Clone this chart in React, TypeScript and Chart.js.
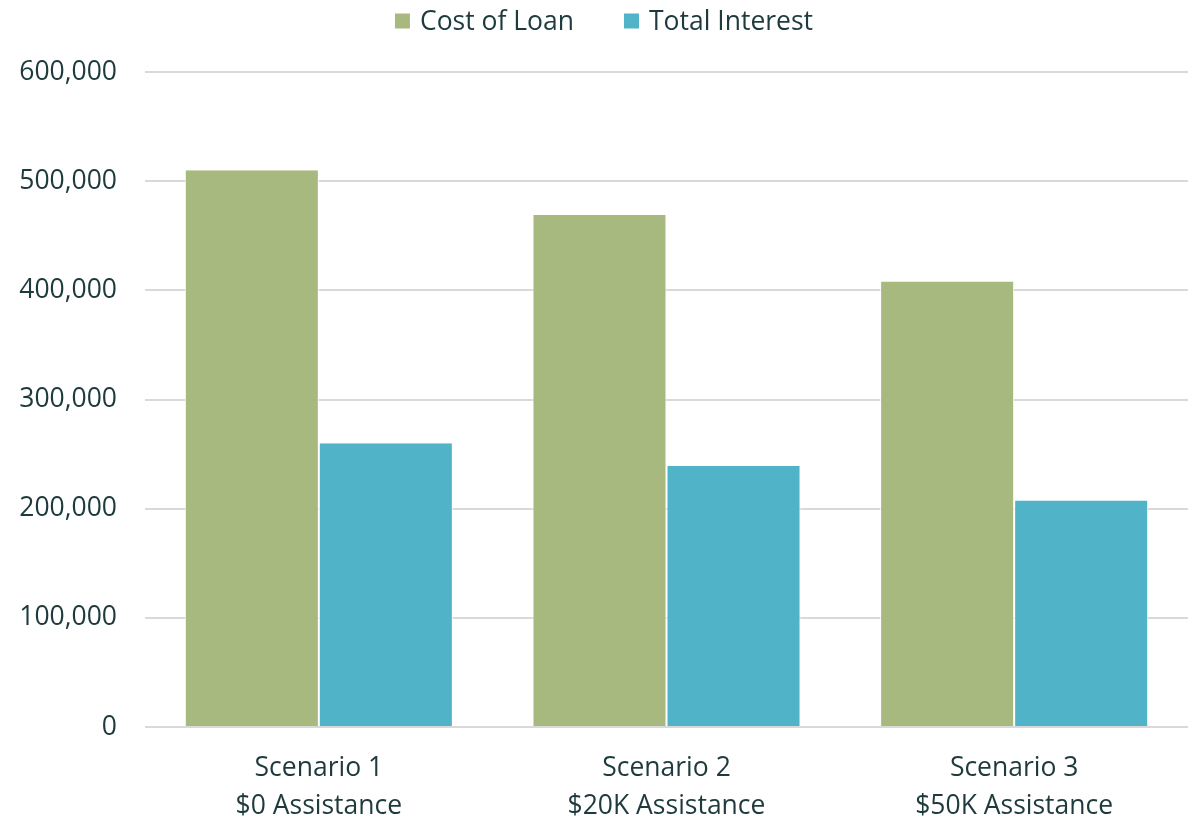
import React, { useEffect, useRef } from "react";
import { Chart, registerables } from "chart.js";

Chart.register(...registerables);

const categories: string[][] = [
  ["Scenario 1", "$0 Assistance"],
  ["Scenario 2", "$20K Assistance"],
  ["Scenario 3", "$50K Assistance"],
];
const costOfLoan: number[] = [510000, 469000, 408000];
const totalInterest: number[] = [260000, 239000, 207500];
const seriesNames: string[] = ["Cost of Loan", "Total Interest"];
const seriesColors: string[] = ["#a8b97f", "#51b3c8"];

const TEXT = "#1e3a3d";
const FONT = "'Open Sans', 'Noto Sans', sans-serif";
const FS = 26.5;

const topLegend = {
  id: "topLegend",
  afterDraw(chart: any) {
    const ctx = chart.ctx as CanvasRenderingContext2D;
    const datasets = chart.data.datasets;
    ctx.save();
    ctx.font = `${FS}px ${FONT}`;
    ctx.textBaseline = "middle";
    ctx.textAlign = "left";
    const box = 15;
    const gap = 10;
    const spacing = 50;
    const widths = datasets.map((d: any) => box + gap + ctx.measureText(d.label).width);
    const total = widths.reduce((a: number, b: number) => a + b, 0) + spacing * (widths.length - 1);
    let x = (chart.width - total) / 2 + 7;
    const cy = 21;
    datasets.forEach((d: any, i: number) => {
      ctx.fillStyle = d.backgroundColor;
      ctx.fillRect(x, cy - box / 2, box, box);
      ctx.fillStyle = TEXT;
      ctx.fillText(d.label, x + box + gap, cy + 1);
      x += widths[i] + spacing;
    });
    ctx.restore();
  },
};

export default function App() {
  const ref = useRef<HTMLCanvasElement | null>(null);
  useEffect(() => {
    document.body.style.margin = "0";
    const ctx = ref.current!;
    const chart = new Chart(ctx, {
      type: "bar",
      data: {
        labels: categories,
        datasets: [
          {
            label: seriesNames[0],
            data: costOfLoan,
            backgroundColor: seriesColors[0],
            borderColor: "#ffffff",
            borderWidth: { left: 1, right: 1, top: 0, bottom: 0 },
            categoryPercentage: 0.771,
            barPercentage: 1,
          },
          {
            label: seriesNames[1],
            data: totalInterest,
            backgroundColor: seriesColors[1],
            borderColor: "#ffffff",
            borderWidth: { left: 1, right: 1, top: 0, bottom: 0 },
            categoryPercentage: 0.771,
            barPercentage: 1,
          },
        ],
      },
      plugins: [topLegend],
      options: {
        responsive: false,
        animation: false,
        layout: { padding: { left: 18, right: 6, top: 72, bottom: 0 } },
        plugins: {
          legend: { display: false },
          tooltip: { enabled: false },
        },
        scales: {
          x: {
            grid: { display: false },
            border: { display: false },
            afterFit: (scale: any) => {
              scale.height = 94;
            },
            ticks: {
              color: TEXT,
              font: { family: FONT, size: FS, lineHeight: 1.42 },
              padding: 15,
              maxRotation: 0,
            },
          },
          y: {
            min: 0,
            max: 600000,
            afterFit: (scale: any) => {
              scale.width = 127;
            },
            ticks: {
              stepSize: 100000,
              color: TEXT,
              font: { family: FONT, size: FS },
              padding: 28,
              callback: (v: any) => Number(v).toLocaleString("en-US"),
            },
            grid: { color: "#d9d9d9", lineWidth: 2, drawTicks: false },
            border: { display: false },
          },
        },
      },
    });
    return () => chart.destroy();
  }, []);
  return <canvas ref={ref} width={1194} height={821} style={{ display: "block" }} />;
}
